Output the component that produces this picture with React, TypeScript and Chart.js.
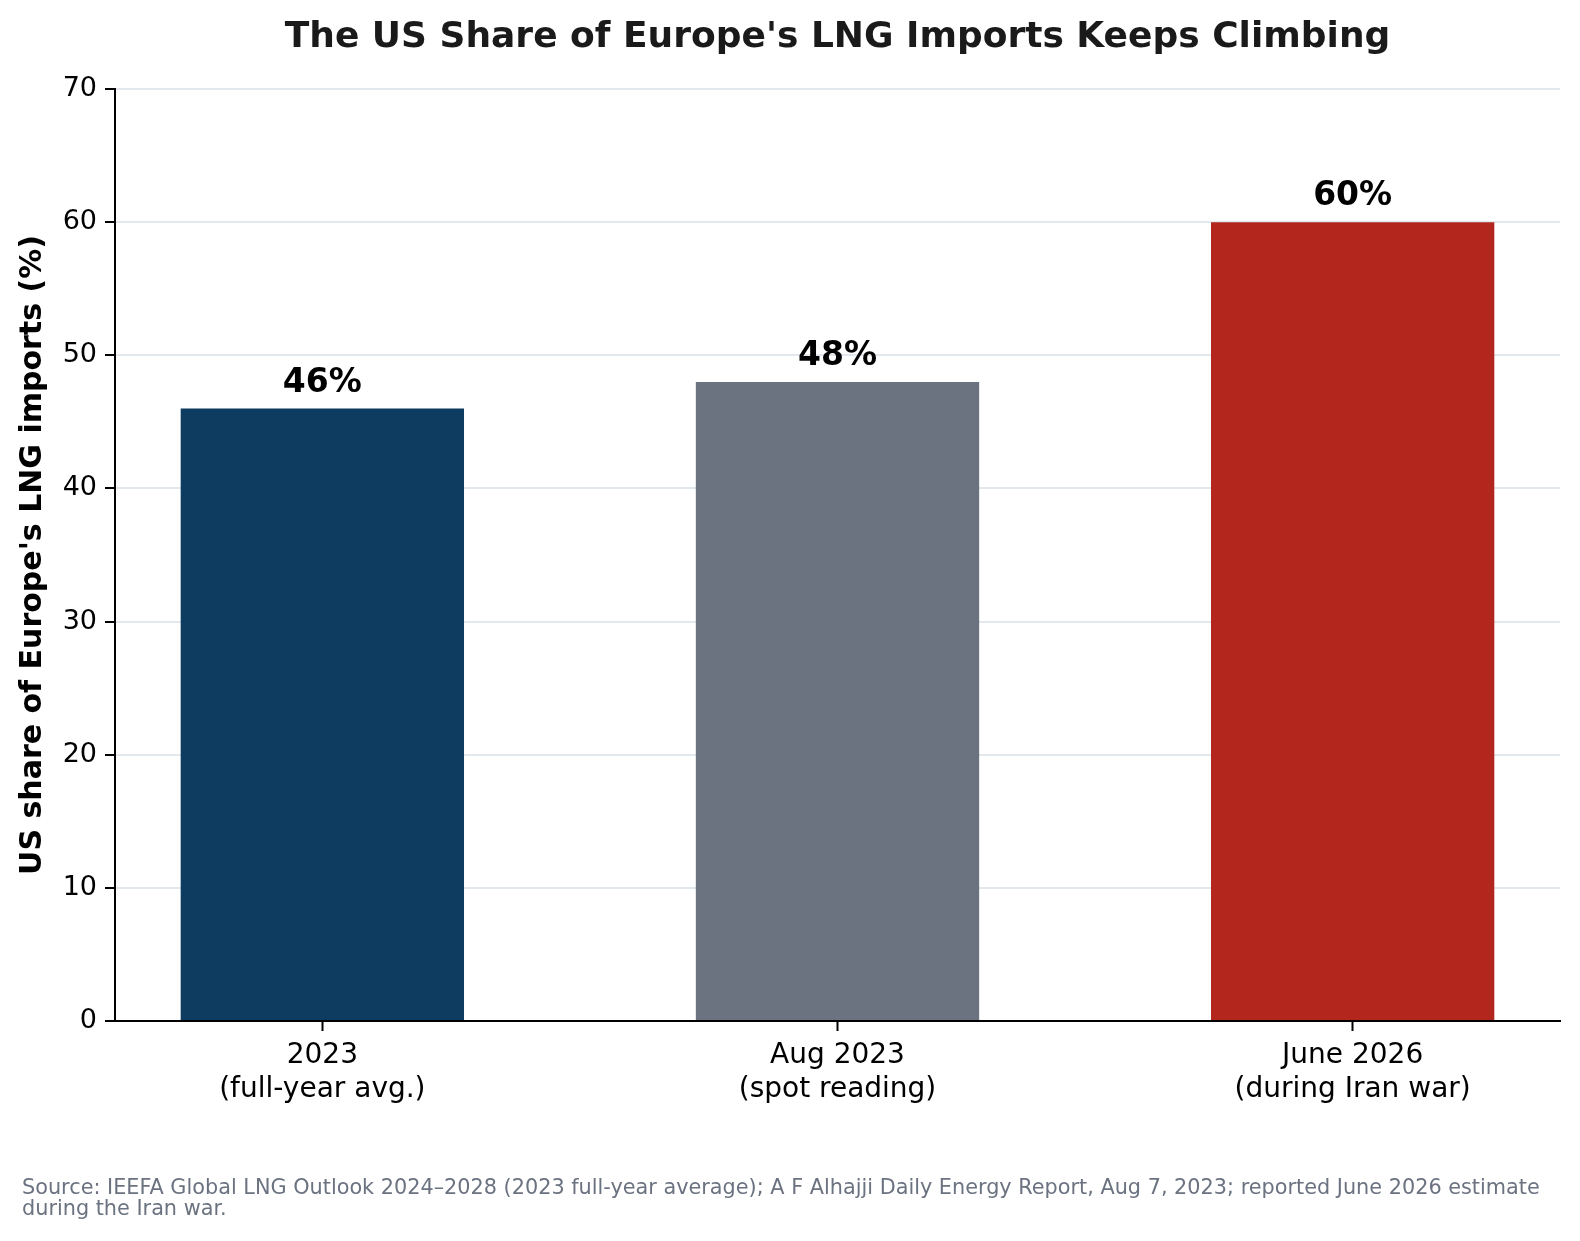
import { useEffect, useRef } from 'react'
import { Chart, registerables } from 'chart.js'
Chart.register(...registerables)

const periods = [0, 1, 2]
const periodLabels = [
  ['2023', '(full-year avg.)'],
  ['Aug 2023', '(spot reading)'],
  ['June 2026', '(during Iran war)'],
]
const usShare = [46, 48, 60]
const barColors = ['#0e3b60', '#6b7280', '#b2261e']
const yTicks = [0, 10, 20, 30, 40, 50, 60, 70]

const TITLE = "The US Share of Europe's LNG Imports Keeps Climbing"
const Y_TITLE = "US share of Europe's LNG imports (%)"
const SOURCE = [
  'Source: IEEFA Global LNG Outlook 2024–2028 (2023 full-year average); A F Alhajji Daily Energy Report, Aug 7, 2023; reported June 2026 estimate',
  'during the Iran war.',
]
const FONT = "'DejaVu Sans', sans-serif"

// text that matplotlib put outside the axes: title, y label, footnote, bar values
const annotate = {
  id: 'annotate',
  afterDatasetsDraw(chart: Chart) {
    const ctx = chart.ctx
    const meta = chart.getDatasetMeta(0)
    ctx.save()
    ctx.fillStyle = '#000'
    ctx.font = `bold 33px ${FONT}`
    ctx.textAlign = 'center'
    ctx.textBaseline = 'alphabetic'
    meta.data.forEach((bar: any, i) => {
      ctx.fillText(`${usShare[i]}%`, bar.x, bar.y - 17)
    })
    ctx.restore()
  },
  afterDraw(chart: Chart) {
    const { ctx, chartArea } = chart
    ctx.save()
    ctx.fillStyle = '#1a1a1a'
    ctx.font = `bold 36px ${FONT}`
    ctx.textAlign = 'center'
    ctx.textBaseline = 'alphabetic'
    ctx.fillText(TITLE, (chartArea.left + chartArea.right) / 2, 47)

    ctx.save()
    ctx.fillStyle = '#000'
    ctx.font = `bold 30px ${FONT}`
    ctx.textBaseline = 'middle'
    ctx.translate(33, (chartArea.top + chartArea.bottom) / 2)
    ctx.rotate(-Math.PI / 2)
    ctx.fillText(Y_TITLE, 0, 0)
    ctx.restore()

    ctx.fillStyle = '#6b7280'
    ctx.font = `20.8px ${FONT}`
    ctx.textAlign = 'left'
    SOURCE.forEach((line, i) => ctx.fillText(line, 22, 1194 + i * 21))
    ctx.restore()
  },
}

export default function App() {
  const ref = useRef<HTMLCanvasElement>(null)
  const inst = useRef<Chart | null>(null)

  useEffect(() => {
    if (!ref.current) return
    inst.current?.destroy()
    inst.current = new Chart(ref.current, {
      type: 'bar',
      data: {
        datasets: [{
          data: periods.map((p, i) => ({ x: p, y: usShare[i] })),
          backgroundColor: barColors,
          borderWidth: 0,
          barPercentage: 0.55,
          categoryPercentage: 1,
        }],
      },
      options: {
        responsive: true, maintainAspectRatio: false, animation: false,
        layout: { padding: { top: 89, right: 20, left: 0, bottom: 0 } },
        plugins: { legend: { display: false }, tooltip: { enabled: false } },
        scales: {
          x: {
            type: 'linear', min: -0.4025, max: 2.4025, offset: false,
            afterBuildTicks: (s: any) => { s.ticks = periods.map(v => ({ value: v })) },
            afterFit: (s: any) => { s.height = 220 },
            ticks: { callback: (v: any) => periodLabels[v], color: '#000', font: { size: 28, family: FONT }, padding: 8, maxRotation: 0, autoSkip: false },
            grid: { offset: false, drawOnChartArea: false, drawTicks: true, tickLength: 10, tickWidth: 2, tickColor: '#000' },
            border: { display: true, color: '#000', width: 2 },
          },
          y: {
            min: 0, max: 70,
            afterBuildTicks: (s: any) => { s.ticks = yTicks.map(v => ({ value: v })) },
            afterFit: (s: any) => { s.width = 115 },
            ticks: { color: '#000', font: { size: 27, family: FONT }, padding: 8 },
            grid: {
              color: (c: any) => (c.tick && c.tick.value === 0 ? 'rgba(0,0,0,0)' : '#e3e8ef'),
              lineWidth: 2, tickLength: 10, tickWidth: 2, tickColor: '#000',
            },
            border: { display: true, color: '#000', width: 2 },
          },
        },
      },
      plugins: [annotate],
    })
    return () => { inst.current?.destroy() }
  }, [])

  return (
    <div style={{ position: 'absolute', left: 0, top: 0, width: 1580, height: 1241, background: '#fff' }}>
      <canvas ref={ref} />
    </div>
  )
}
